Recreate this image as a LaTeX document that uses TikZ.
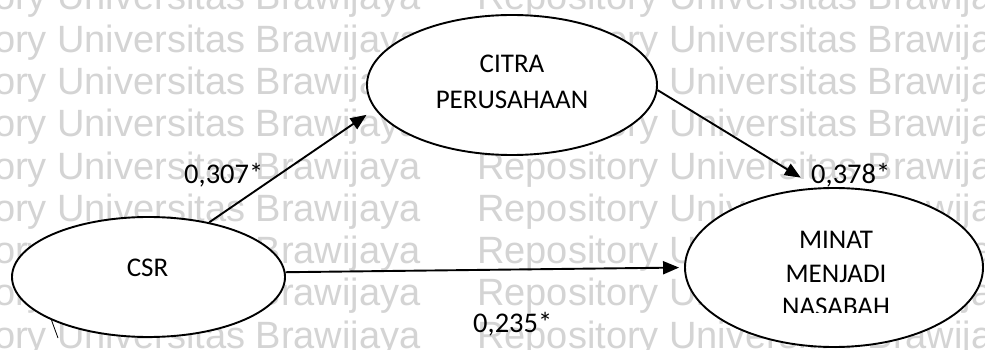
\documentclass[tikz,border=0pt]{standalone}
\usepackage{fontspec}
\setmainfont{Carlito}
\newfontfamily\wmfont{Liberation Sans}
\usetikzlibrary{shapes.geometric,arrows.meta}
\definecolor{wmgray}{RGB}{212,212,212}
\begin{document}
\begin{tikzpicture}[x=1pt,y=-1pt,
  oval/.style={ellipse,draw,line width=1.9pt,fill=white,inner sep=0pt},
  lbl/.style={font=\fontsize{27}{30}\selectfont,anchor=base,inner sep=0pt},
  coef/.style={font=\fontsize{28.5}{30}\selectfont,anchor=base west,inner sep=0pt},
  wm/.style={font=\wmfont\fontsize{38}{40}\selectfont,text=wmgray,anchor=base west,inner sep=0pt},
  link/.style={line width=1.9pt,-{Triangle[length=16pt,width=13pt]}}]
\fill[white] (0,0) rectangle (985,350);
\useasboundingbox (0,0) rectangle (985,350);
\begin{scope}
\clip (0,0) rectangle (985,350);
\foreach \i in {0,...,8}{
  \node[wm] (wa\i) at (-135,10+42.25*\i) {Repository Universitas Brawijaya};
  \node[wm] (wb\i) at (477,10+42.25*\i) {Repository Universitas Brawijaya};
}
\end{scope}
\node[oval,minimum width=273pt,minimum height=120pt] (csr) at (148.5,277) {};
\node[oval,minimum width=290pt,minimum height=140pt] (citra) at (512,85) {};
\node[oval,minimum width=298pt,minimum height=159pt] (minat) at (834,267.5) {};
\draw[link,shorten >=10pt] (csr.42) -- (citra.190);
\draw[link,shorten >=19pt] (citra.-2) -- (minat.102);
\draw[link,shorten >=5pt] (csr.2) -- (minat.180);
\coordinate (tick) at (58,338);
\draw[line width=0.8pt] (csr.204) -- (tick);
\node[lbl] (tcsr) at (147.5,276) {CSR};
\node[lbl] (tcitra1) at (512,73) {CITRA};
\node[lbl] (tcitra2) at (512,109) {PERUSAHAAN};
\begin{scope}
\clip (600,0) rectangle (985,312);
\node[lbl] (tminat1) at (836,248) {MINAT};
\node[lbl] (tminat2) at (836,282) {MENJADI};
\node[lbl] (tminat3) at (836,315) {NASABAH};
\end{scope}
\node[coef] (c1) at (184,183) {0,307*};
\node[coef] (c2) at (811,183) {0,378*};
\node[coef] (c3) at (473,332) {0,235*};
\end{tikzpicture}
\end{document}
